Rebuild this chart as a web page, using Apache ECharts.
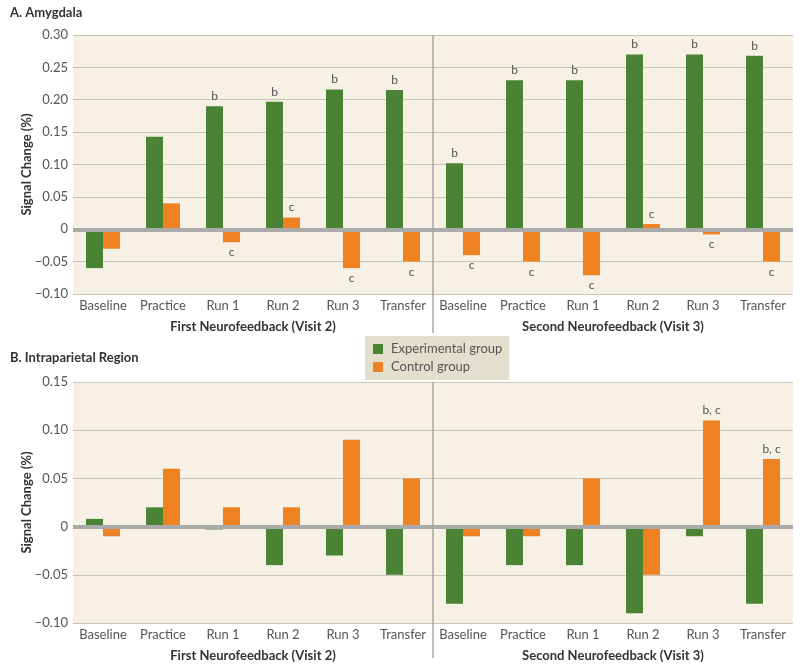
<!DOCTYPE html>
<html>
<head>
<meta charset="utf-8">
<script src="https://cdn.jsdelivr.net/npm/echarts@6/dist/echarts.min.js"></script>
<style>
  html, body { margin: 0; padding: 0; background: #fff; }
  #main { width: 800px; height: 667px; }
</style>
</head>
<body>
<div id="main"></div>
<script>
var phases = ['Baseline', 'Practice', 'Run 1', 'Run 2', 'Run 3', 'Transfer'];
var categories = phases.concat(phases);
var sessions = ['First Neurofeedback (Visit 2)', 'Second Neurofeedback (Visit 3)'];

// A. Amygdala
var amyExp = [-0.06, 0.143, 0.19, 0.197, 0.216, 0.215, 0.102, 0.23, 0.23, 0.27, 0.27, 0.268];
var amyCtrl = [-0.03, 0.04, -0.02, 0.018, -0.06, -0.05, -0.04, -0.05, -0.071, 0.008, -0.008, -0.05];
var amyExpNotes = ['', '', 'b', 'b', 'b', 'b', 'b', 'b', 'b', 'b', 'b', 'b'];
var amyCtrlNotes = ['', '', 'c', 'c', 'c', 'c', 'c', 'c', 'c', 'c', 'c', 'c'];

// B. Intraparietal Region
var ipsExp = [0.008, 0.02, -0.003, -0.04, -0.03, -0.05, -0.08, -0.04, -0.04, -0.09, -0.01, -0.08];
var ipsCtrl = [-0.01, 0.06, 0.02, 0.02, 0.09, 0.05, -0.01, -0.01, 0.05, -0.05, 0.11, 0.07];
var ipsExpNotes = ['', '', '', '', '', '', '', '', '', '', '', ''];
var ipsCtrlNotes = ['', '', '', '', '', '', '', '', '', '', 'b, c', 'b, c'];

var GREEN = '#4b8335';
var ORANGE = '#ee8223';
var FONT = 'Lato';

var gridA = { left: 73, top: 35, width: 720, height: 259 };
var gridB = { left: 73, top: 382, width: 720, height: 241 };

function withNotes(values, notes) {
  return values.map(function (v, i) {
    return {
      value: v,
      label: {
        show: notes[i] !== '',
        formatter: notes[i],
        position: v >= 0 ? 'top' : 'bottom',
        distance: 4,
        color: '#555',
        fontSize: 12,
        fontFamily: FONT
      }
    };
  });
}

function fmt(v) {
  if (Math.abs(v) < 1e-9) return '0';
  return v < 0 ? '\u2212' + Math.abs(v).toFixed(2) : v.toFixed(2);
}

function valueAxis(gridIndex, min, max) {
  return {
    type: 'value', gridIndex: gridIndex, min: min, max: max, interval: 0.05,
    name: 'Signal Change (%)', nameLocation: 'middle', nameGap: 40, nameMoveOverlap: false,
    nameTextStyle: { fontFamily: FONT, fontWeight: 'bold', fontSize: 13, color: '#333' },
    axisLine: { show: false }, axisTick: { show: false },
    axisLabel: { formatter: fmt, fontFamily: FONT, fontSize: 13, color: '#555', margin: 5 },
    splitLine: { lineStyle: { color: '#c9c4b8', width: 1 } }
  };
}

function catAxis(gridIndex) {
  return {
    type: 'category', gridIndex: gridIndex, data: categories, position: 'bottom',
    axisLine: { onZero: false, show: false }, axisTick: { show: false },
    axisLabel: { fontFamily: FONT, fontSize: 13, color: '#555', margin: 5, interval: 0 }
  };
}

function sessionAxis(gridIndex) {
  return {
    type: 'category', gridIndex: gridIndex, data: sessions, position: 'bottom', offset: 22,
    axisLine: { show: false }, axisTick: { show: false }, splitLine: { show: false },
    axisLabel: { fontFamily: FONT, fontSize: 13, fontWeight: 'bold', color: '#333', margin: 4, interval: 0 }
  };
}

var zeroLine = {
  silent: true, symbol: 'none', label: { show: false },
  lineStyle: { color: '#aaaaaa', width: 4, type: 'solid' },
  data: [{ yAxis: 0 }]
};

function bars(name, color, xIdx, yIdx, data, withZero) {
  var s = {
    name: name, type: 'bar', xAxisIndex: xIdx, yAxisIndex: yIdx,
    data: data, barWidth: 17, barGap: '0%',
    itemStyle: { color: color }
  };
  if (withZero) s.markLine = zeroLine;
  return s;
}

function divider(grid, extra) {
  var x = grid.left + grid.width / 2;
  return {
    type: 'line', silent: true, z: 10,
    shape: { x1: x, y1: grid.top, x2: x, y2: grid.top + grid.height + extra },
    style: { stroke: '#a9a6a0', lineWidth: 1.5 }
  };
}

var chart = echarts.init(document.getElementById('main'));
chart.setOption({
  backgroundColor: '#ffffff',
  animation: false,
  textStyle: { fontFamily: FONT },
  title: [
    { text: 'A. Amygdala', left: 5, top: 1, textStyle: { fontFamily: FONT, fontSize: 13, fontWeight: 'bold', color: '#333' } },
    { text: 'B. Intraparietal Region', left: 5, top: 346, textStyle: { fontFamily: FONT, fontSize: 13, fontWeight: 'bold', color: '#333' } }
  ],
  legend: {
    orient: 'vertical', left: 365, top: 336,
    backgroundColor: '#e2dfcc', padding: [6, 7, 6, 8],
    itemWidth: 10, itemHeight: 10, itemGap: 4, icon: 'rect',
    textStyle: { fontFamily: FONT, fontSize: 13, color: '#555', lineHeight: 14, padding: [0, 0, 0, 3] },
    data: ['Experimental group', 'Control group']
  },
  grid: [
    Object.assign({ show: true, backgroundColor: '#f6f0e5', borderWidth: 0 }, gridA),
    Object.assign({ show: true, backgroundColor: '#f6f0e5', borderWidth: 0 }, gridB)
  ],
  xAxis: [catAxis(0), sessionAxis(0), catAxis(1), sessionAxis(1)],
  yAxis: [valueAxis(0, -0.10, 0.30), valueAxis(1, -0.10, 0.15)],
  series: [
    bars('Experimental group', GREEN, 0, 0, withNotes(amyExp, amyExpNotes), false),
    bars('Control group', ORANGE, 0, 0, withNotes(amyCtrl, amyCtrlNotes), true),
    bars('Experimental group', GREEN, 2, 1, withNotes(ipsExp, ipsExpNotes), false),
    bars('Control group', ORANGE, 2, 1, withNotes(ipsCtrl, ipsCtrlNotes), true)
  ],
  graphic: [divider(gridA, 39), divider(gridB, 35)]
});
</script>
</body>
</html>
